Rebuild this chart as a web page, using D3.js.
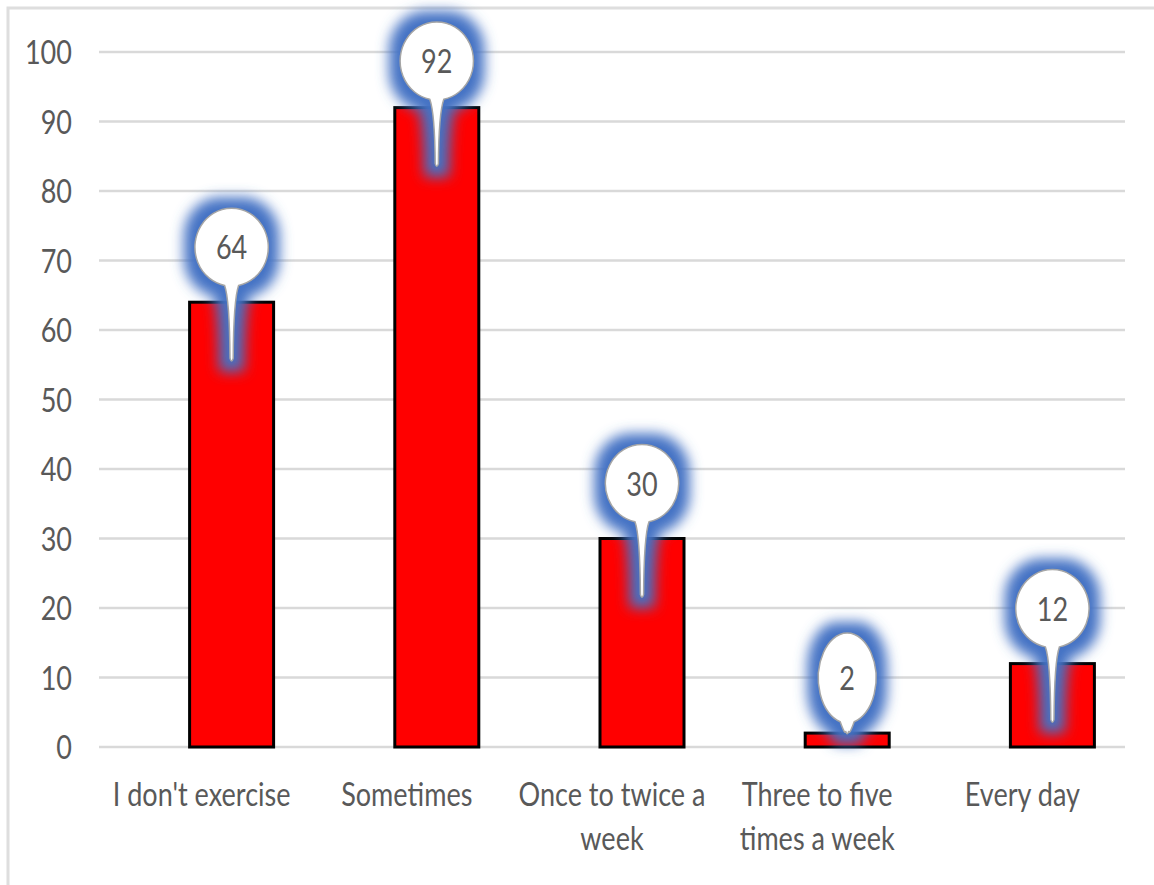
<!DOCTYPE html>
<html>
<head>
<meta charset="utf-8">
<script src="https://cdn.jsdelivr.net/npm/d3@7"></script>
<style>
  html, body { margin: 0; padding: 0; background: #fff; }
  svg { display: block; }
</style>
</head>
<body>
<svg id="chart" width="1154" height="885"></svg>
<script>
// Exercise frequency survey: number of respondents per answer
const categories = ["I don't exercise", "Sometimes", "Once to twice a week", "Three to five times a week", "Every day"];
const counts = [64, 92, 30, 2, 12];
const yTicks = [0, 10, 20, 30, 40, 50, 60, 70, 80, 90, 100];

const W = 1154, H = 885;
const FONT = "Lato, 'Open Sans', sans-serif";
const FONT_SIZE = 33;
const SQUEEZE = 0.82;      // narrow the glyphs horizontally
const TEXT = "#595959";
const GRID = "#d9d9d9";
const BAR_FILL = "#ff0000";
const GLOW = "#4472c4";

const svg = d3.select("#chart");

// frame: top and left edges only
svg.append("path")
  .attr("d", `M8,${H} L8,8 L${W},8`)
  .attr("fill", "none")
  .attr("stroke", "#dedede")
  .attr("stroke-width", 3);

const plot = { left: 99, right: 1125, top: 52, bottom: 747 };

const x = d3.scaleBand().domain(categories).range([plot.left, plot.right]).padding(0);
const y = d3.scaleLinear().domain([0, 100]).range([plot.bottom, plot.top]);

const barWidth = 84;
const barShift = 30;   // bars sit a little right of their category centre
const barCx = c => x(c) + x.bandwidth() / 2 + barShift;

// gridlines
svg.append("g").selectAll("line").data(yTicks).join("line")
  .attr("x1", plot.left).attr("x2", plot.right)
  .attr("y1", d => y(d)).attr("y2", d => y(d))
  .attr("stroke", GRID).attr("stroke-width", 2.5);

// squeezed text helper
function sqText(g, str, px, py, anchor) {
  const t = g.append("text")
    .attr("transform", `translate(${px},${py}) scale(${SQUEEZE},1)`)
    .attr("text-anchor", anchor)
    .attr("font-family", FONT)
    .attr("font-size", FONT_SIZE)
    .attr("fill", TEXT)
    .text(str);
  return t;
}

// y axis labels
const yAxis = svg.append("g");
yTicks.forEach(t => sqText(yAxis, t, 72, y(t) + 12, "end"));

// bars
svg.append("g").selectAll("rect").data(categories).join("rect")
  .attr("x", (c) => barCx(c) - barWidth / 2)
  .attr("y", (c, i) => y(counts[i]))
  .attr("width", barWidth)
  .attr("height", (c, i) => y(0) - y(counts[i]))
  .attr("fill", BAR_FILL)
  .attr("stroke", "#000")
  .attr("stroke-width", 3);

// category labels, wrapped to the band width
const xAxis = svg.append("g");
const maxLine = 195;
categories.forEach(c => {
  const cx = x(c) + x.bandwidth() / 2;
  const words = c.split(" ");
  const lines = [];
  let cur = "";
  const probe = sqText(xAxis, "", cx, -100, "middle");
  words.forEach(w => {
    const test = cur ? cur + " " + w : w;
    probe.text(test);
    if (probe.node().getComputedTextLength() * SQUEEZE > maxLine && cur) {
      lines.push(cur);
      cur = w;
    } else {
      cur = test;
    }
  });
  lines.push(cur);
  probe.remove();
  lines.forEach((ln, k) => sqText(xAxis, ln, cx, 806 + k * 44, "middle"));
});

// glow filter for the callouts
const defs = svg.append("defs");
const f = defs.append("filter").attr("id", "glow")
  .attr("x", "-80%").attr("y", "-80%").attr("width", "260%").attr("height", "260%");
f.append("feMorphology").attr("in", "SourceAlpha").attr("operator", "dilate").attr("radius", 11).attr("result", "fat");
f.append("feGaussianBlur").attr("in", "fat").attr("stdDeviation", 6.5).attr("result", "soft");
f.append("feFlood").attr("flood-color", GLOW).attr("result", "col");
f.append("feComposite").attr("in", "col").attr("in2", "soft").attr("operator", "in").attr("result", "halo");
const fm = f.append("feMerge");
fm.append("feMergeNode").attr("in", "halo");

// callout outline: ellipse with a narrow pointer down to (0, tip)
function calloutPath(rx, ry, tip) {
  const w = 7;
  const yj = ry * Math.sqrt(1 - (w / rx) * (w / rx));
  return `M${-w},${yj} A${rx},${ry} 0 1 1 ${w},${yj}` +
    ` Q2,${yj + 14} 1.6,${tip - 4} Q0,${tip + 1.5} -1.6,${tip - 4} Q-2,${yj + 14} ${-w},${yj} Z`;
}

const labels = svg.append("g");
categories.forEach((c, i) => {
  const v = counts[i];
  const cx = barCx(c);
  const top = y(v);
  const tipY = Math.min(top + 60, y(0) - 12);
  const g = labels.append("g");
  const txt = sqText(g, v, 0, 0, "middle");
  const tw = txt.node().getComputedTextLength() * SQUEEZE;
  txt.remove();
  const rx = Math.max(24, tw / 2 + 21);
  const ry = rx < 30 ? 45 : 39;
  const cy = Math.max(Math.min(top - 55, tipY - ry - 5), 61);
  g.attr("transform", `translate(${cx},${cy})`);
  const d = calloutPath(rx, ry, tipY - cy);
  g.append("path").attr("d", d).attr("fill", "#fff").attr("filter", "url(#glow)");
  g.append("path").attr("d", d).attr("fill", "#fff").attr("stroke", "#a6a6a6").attr("stroke-width", 1.5);
  sqText(g, v, 0, 12, "middle");
});
</script>
</body>
</html>
